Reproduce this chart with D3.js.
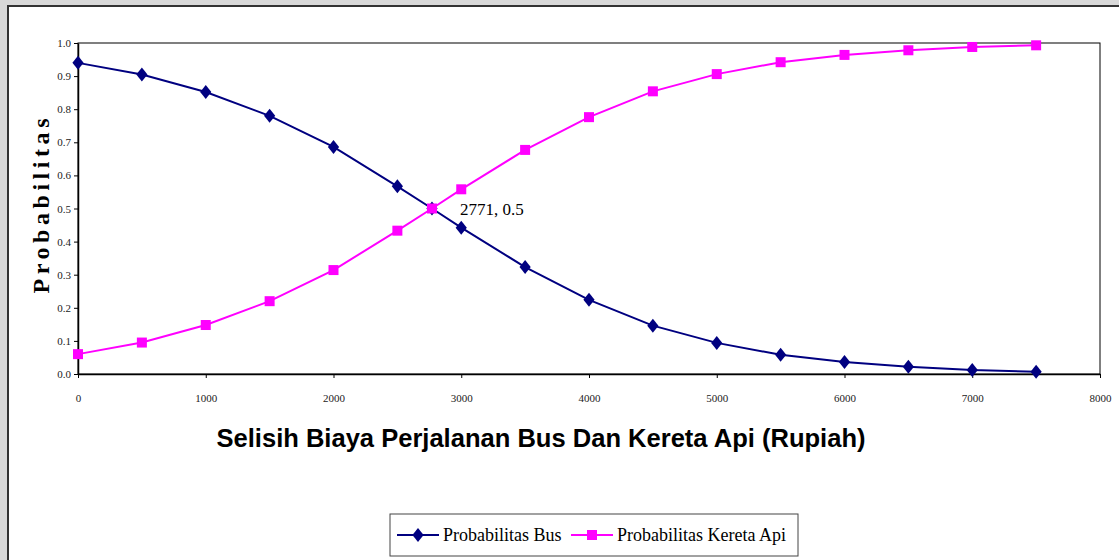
<!DOCTYPE html>
<html>
<head>
<meta charset="utf-8">
<script src="https://cdn.jsdelivr.net/npm/d3@7"></script>
<style>
  body { margin: 0; background: #d9d9d9; }
  svg { display: block; }
</style>
</head>
<body>
<div id="chart"></div>
<script>
// data
var selisih = [0, 500, 1000, 1500, 2000, 2500, 2771, 3000, 3500, 4000, 4500, 5000, 5500, 6000, 6500, 7000, 7500];
var probBus = [0.94, 0.905, 0.852, 0.78, 0.686, 0.567, 0.5, 0.442, 0.323, 0.224, 0.146, 0.094, 0.058, 0.036, 0.022, 0.012, 0.007];
var probKereta = [0.06, 0.095, 0.148, 0.22, 0.314, 0.433, 0.5, 0.558, 0.677, 0.776, 0.854, 0.906, 0.942, 0.964, 0.978, 0.988, 0.993];
var xTicks = [0, 1000, 2000, 3000, 4000, 5000, 6000, 7000, 8000];
var yTicks = [0, 0.1, 0.2, 0.3, 0.4, 0.5, 0.6, 0.7, 0.8, 0.9, 1.0];
var seriesNames = ["Probabilitas Bus", "Probabilitas Kereta Api"];
var annotation = {x: 2771, y: 0.5, text: "2771, 0.5"};

var W = 1119, H = 560;
var margin = {top: 43, right: 19, bottom: 186, left: 78},
    width = W - margin.left - margin.right,
    height = H - margin.top - margin.bottom;

var root = d3.select("#chart")
  .append("svg")
    .attr("width", W)
    .attr("height", H);

// outer chart frame
root.append("rect")
  .attr("x", 8).attr("y", 6)
  .attr("width", W + 10).attr("height", H + 10)
  .attr("fill", "white")
  .attr("stroke", "#333")
  .attr("stroke-width", 2);

var svg = root.append("g")
  .attr("transform", "translate(" + margin.left + "," + margin.top + ")");

var x = d3.scaleLinear().domain([0, 8000]).range([0, width]);
var y = d3.scaleLinear().domain([0, 1]).range([height, 0]);

// plot area border
svg.append("rect")
  .attr("width", width).attr("height", height)
  .attr("fill", "none")
  .attr("stroke", "#000")
  .attr("stroke-width", 1);

// X axis
var xAxis = svg.append("g")
  .attr("transform", "translate(0," + height + ")")
  .call(d3.axisBottom(x).tickValues(xTicks).tickFormat(d3.format("d")).tickSize(4).tickSizeOuter(0));
xAxis.selectAll("text")
  .attr("dy", "1.9em")
  .style("font-family", "'Liberation Serif', 'Times New Roman', serif")
  .style("font-size", "11px")
  .style("fill", "#222");
xAxis.select(".domain").attr("stroke-width", 1.5);

// Y axis
var yAxis = svg.append("g")
  .call(d3.axisLeft(y).tickValues(yTicks).tickFormat(d3.format(".1f")).tickSize(4).tickSizeOuter(0));
yAxis.selectAll("text")
  .attr("x", -7)
  .style("font-family", "'Liberation Serif', 'Times New Roman', serif")
  .style("font-size", "11px")
  .style("fill", "#222");
yAxis.select(".domain").attr("stroke-width", 1.5);

// axis titles
root.append("text")
  .attr("transform", "translate(49,206) rotate(-90)")
  .attr("text-anchor", "middle")
  .attr("textLength", 175)
  .attr("lengthAdjust", "spacing")
  .style("font-family", "'Liberation Serif', 'Times New Roman', serif")
  .style("font-weight", "bold")
  .style("font-size", "24px")
  .text("Probabilitas");

root.append("text")
  .attr("x", 541)
  .attr("y", 447)
  .attr("text-anchor", "middle")
  .attr("textLength", 649)
  .attr("lengthAdjust", "spacingAndGlyphs")
  .style("font-family", "'Liberation Sans', Arial, sans-serif")
  .style("font-weight", "bold")
  .style("font-size", "25px")
  .text("Selisih Biaya Perjalanan Bus Dan Kereta Api (Rupiah)");

var line = d3.line()
  .x(function(d) { return x(d[0]); })
  .y(function(d) { return y(d[1]); });

var busData = selisih.map(function(s, i) { return [s, probBus[i]]; });
var keretaData = selisih.map(function(s, i) { return [s, probKereta[i]]; });

var diamond = d3.symbol().type(d3.symbolDiamond2).size(80);

// Bus line
svg.append("path")
  .datum(busData)
  .attr("fill", "none")
  .attr("stroke", "#000080")
  .attr("stroke-width", 2)
  .attr("d", line);
svg.selectAll(".bus")
  .data(busData)
  .enter()
  .append("path")
    .attr("class", "bus")
    .attr("transform", function(d) { return "translate(" + x(d[0]) + "," + y(d[1]) + ") scale(1,1.25)"; })
    .attr("d", diamond)
    .style("fill", "#000080");

// Kereta line
svg.append("path")
  .datum(keretaData)
  .attr("fill", "none")
  .attr("stroke", "#ff00ff")
  .attr("stroke-width", 2)
  .attr("d", line);
svg.selectAll(".kereta")
  .data(keretaData)
  .enter()
  .append("rect")
    .attr("class", "kereta")
    .attr("x", function(d) { return x(d[0]) - 5; })
    .attr("y", function(d) { return y(d[1]) - 5; })
    .attr("width", 10)
    .attr("height", 10)
    .style("fill", "#ff00ff");

// annotation
svg.append("text")
  .attr("x", x(annotation.x) + 28)
  .attr("y", y(annotation.y) + 6)
  .style("font-family", "'Liberation Serif', 'Times New Roman', serif")
  .style("font-size", "17px")
  .text(annotation.text);

// legend
var legend = root.append("g").attr("transform", "translate(390,514)");
legend.append("rect")
  .attr("width", 408).attr("height", 42)
  .attr("fill", "white")
  .attr("stroke", "#444")
  .attr("stroke-width", 1);

var legendItems = [
  {name: seriesNames[0], color: "#000080", x0: 7, tx: 53},
  {name: seriesNames[1], color: "#ff00ff", x0: 181, tx: 227}
];
legendItems.forEach(function(it, i) {
  legend.append("line")
    .attr("x1", it.x0).attr("x2", it.x0 + 42)
    .attr("y1", 21).attr("y2", 21)
    .attr("stroke", it.color)
    .attr("stroke-width", 2);
  if (i === 0) {
    legend.append("path")
      .attr("transform", "translate(" + (it.x0 + 21) + ",21) scale(1,1.25)")
      .attr("d", diamond)
      .style("fill", it.color);
  } else {
    legend.append("rect")
      .attr("x", it.x0 + 16).attr("y", 16)
      .attr("width", 10).attr("height", 10)
      .style("fill", it.color);
  }
  legend.append("text")
    .attr("x", it.tx)
    .attr("y", 27)
    .style("font-family", "'Liberation Serif', 'Times New Roman', serif")
    .style("font-size", "18px")
    .text(it.name);
});
</script>
</body>
</html>
